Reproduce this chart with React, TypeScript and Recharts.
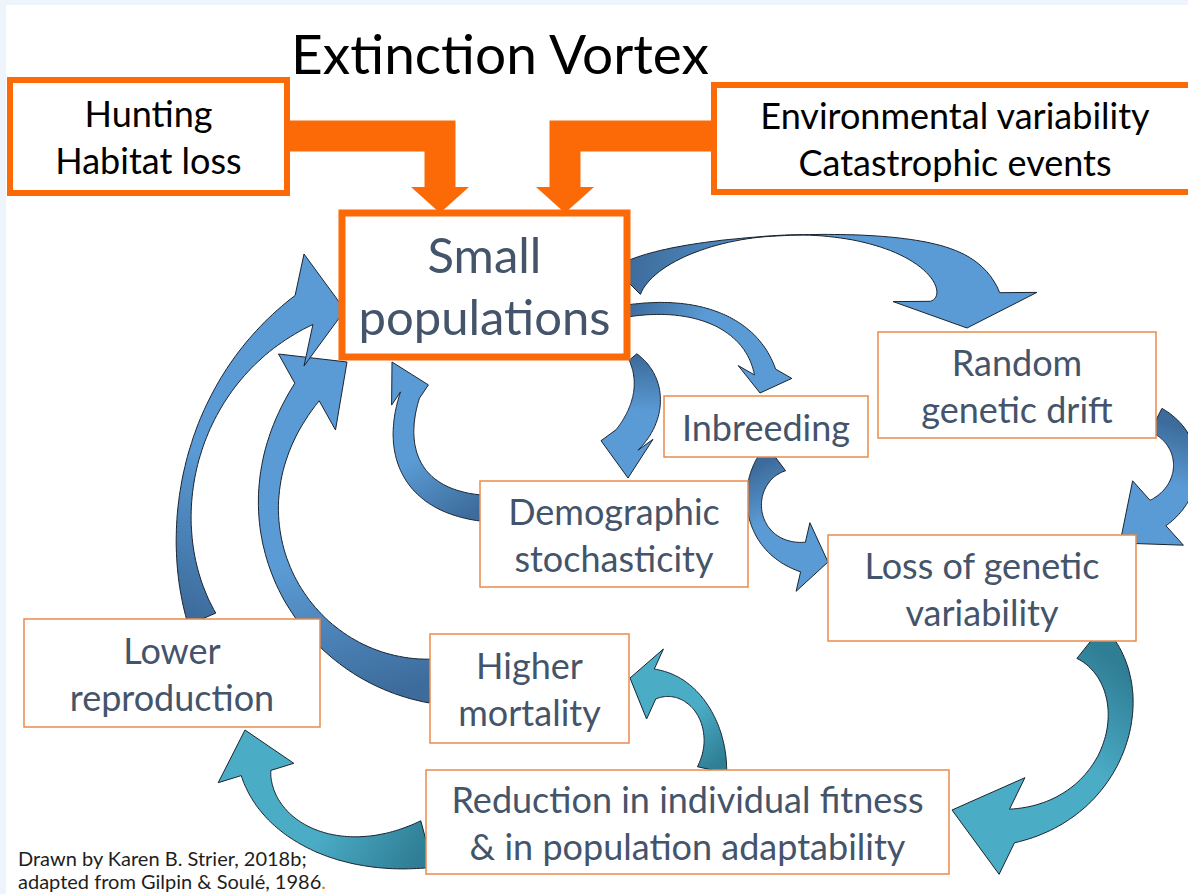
import React from 'react'
import { ScatterChart, Scatter, XAxis, YAxis } from 'recharts'

// chart units are laid out 1:1 with the slide
const W = 1188
const H = 894
const X_MAX = 1188
const Y_MAX = 894
const KX = W / X_MAX
const KY = H / Y_MAX

const FONT = 'Lato, "Open Sans", sans-serif'
const INK = '#44546a'
const ORANGE = '#fb6a06'
const THIN_ORANGE = '#ea8a4a'

const titleText = 'Extinction Vortex'
const titleAt = { x: 500, y: 53 }

const footnoteLines = ['Drawn by Karen B. Strier, 2018b;', 'adapted from Gilpin & Soulé, 1986']
const footnoteAt = { x: 18, y: 858 }

const driverBoxes = [
    { lines: ['Hunting', 'Habitat loss'], x0: 10, x1: 287, y0: 80, y1: 193 },
    { lines: ['Environmental variability', 'Catastrophic events'], x0: 714, x1: 1196, y0: 85, y1: 192 },
]

const coreBox = [{ lines: ['Small', 'populations'], x0: 342, x1: 627, y0: 213, y1: 357 }]

const stageBoxes = [
    { lines: ['Random', 'genetic drift'], x0: 878, x1: 1156, y0: 332, y1: 438 },
    { lines: ['Inbreeding'], x0: 664, x1: 868, y0: 396, y1: 457 },
    { lines: ['Demographic', 'stochasticity'], x0: 480, x1: 748, y0: 481, y1: 587 },
    { lines: ['Loss of genetic', 'variability'], x0: 828, x1: 1136, y0: 535, y1: 641 },
    { lines: ['Lower', 'reproduction'], x0: 24, x1: 320, y0: 619, y1: 727 },
    { lines: ['Higher', 'mortality'], x0: 430, x1: 629, y0: 634, y1: 743 },
    { lines: ['Reduction in individual fitness', '& in population adaptability'], x0: 426, x1: 949, y0: 770, y1: 874 },
]

// elbow arrows from the two driver boxes into "Small populations"
const driverArrows = [
    { from: [287, 136], bend: [440, 136], tip: [440, 213] },
    { from: [714, 136], bend: [565, 136], tip: [565, 213] },
]

// curved arrows of the vortex: centre line (cubic), widths (start, middle, end), head tip, head width
const vortexArrows = [
    { p: [[627, 281], [690, 218], [955, 216], [965, 297]], w: [38, 1, 70], tip: [967, 328], head: 144, tone: 'blue' },
    { p: [[627, 311], [700, 300], [752, 325], [765, 372]], w: [12, 14, 22], tip: [760, 393], head: 55, tone: 'blue' },
    { p: [[633, 357], [654, 382], [650, 415], [627, 440]], w: [10, 28, 30], tip: [628, 478], head: 52, tone: 'blue' },
    { p: [[481, 508], [410, 500], [392, 450], [410, 395]], w: [26, 22, 20], tip: [392, 362], head: 42, tone: 'blue' },
    { p: [[431, 681], [300, 670], [215, 520], [307, 392]], w: [44, 20, 30], tip: [347, 362], head: 95, tone: 'blue' },
    { p: [[202, 619], [160, 520], [190, 380], [304, 310]], w: [30, 12, 34], tip: [345, 310], head: 112, tone: 'blue' },
    { p: [[776, 458], [740, 485], [748, 548], [803, 557]], w: [32, 14, 30], tip: [828, 562], head: 70, tone: 'blue' },
    { p: [[1156, 420], [1195, 440], [1195, 490], [1158, 513]], w: [26, 24, 30], tip: [1120, 543], head: 82, tone: 'blue' },
    { p: [[1090, 642], [1150, 690], [1120, 810], [1012, 826]], w: [42, 22, 34], tip: [952, 810], head: 100, tone: 'teal' },
    { p: [[712, 770], [722, 725], [695, 682], [655, 684]], w: [30, 14, 30], tip: [630, 678], head: 72, tone: 'teal' },
    { p: [[427, 844], [338, 868], [266, 830], [256, 773]], w: [48, 20, 30], tip: [245, 730], head: 78, tone: 'teal' },
]

const TONES: Record<string, [string, string]> = {
    blue: ['#3d6c9c', '#5b9bd5'],
    teal: ['#2f7e95', '#4bacc6'],
}

const withCentre = (b: any) => ({ ...b, x: (b.x0 + b.x1) / 2, y: (b.y0 + b.y1) / 2 })
const driverData = driverBoxes.map(withCentre)
const coreData = coreBox.map(withCentre)
const stageData = stageBoxes.map(withCentre)
const driverArrowData = driverArrows.map(a => ({ ...a, x: a.from[0], y: a.from[1] }))
const vortexData = vortexArrows.map((a, i) => ({ ...a, id: i, x: a.p[0][0], y: a.p[0][1] }))

// map a chart-unit point into pixels, relative to the point recharts already scaled
const px = (props: any, pt: number[]) => [
    props.cx + (pt[0] - props.payload.x) * KX,
    props.cy + (pt[1] - props.payload.y) * KY,
]

const pts = (list: number[][]) => list.map(p => `${p[0].toFixed(1)},${p[1].toFixed(1)}`).join(' ')

function BoxShape(props: any, opts: { stroke: string; sw: number; size: number; gap: number; color: string }) {
    const b = props.payload
    const [x0, y0] = px(props, [b.x0, b.y0])
    const [x1, y1] = px(props, [b.x1, b.y1])
    const n = b.lines.length
    return (
        <g>
            <rect x={x0} y={y0} width={x1 - x0} height={y1 - y0} fill="#fff" stroke={opts.stroke} strokeWidth={opts.sw} />
            {b.lines.map((t: string, i: number) => (
                <text
                    key={i}
                    x={props.cx}
                    y={props.cy + (i - (n - 1) / 2) * opts.gap}
                    textAnchor="middle"
                    dominantBaseline="central"
                    fontFamily={FONT}
                    fontSize={opts.size}
                    fill={opts.color}
                >
                    {t}
                </text>
            ))}
        </g>
    )
}

function ElbowArrow(props: any) {
    const a = props.payload
    const [ax, ay] = px(props, a.from)
    const [bx] = px(props, a.bend)
    const [cx, cy] = px(props, a.tip)
    const T = 31
    const HW = 58
    const L = 26
    const s = Math.sign(bx - ax)
    const poly = [
        [ax, ay - T / 2],
        [bx + (s * T) / 2, ay - T / 2],
        [bx + (s * T) / 2, cy - L],
        [bx + (s * HW) / 2, cy - L],
        [cx, cy],
        [bx - (s * HW) / 2, cy - L],
        [bx - (s * T) / 2, cy - L],
        [bx - (s * T) / 2, ay + T / 2],
        [ax, ay + T / 2],
    ]
    return <polygon points={pts(poly)} fill={ORANGE} />
}

function CurvedArrow(props: any) {
    const a = props.payload
    const P = a.p.map((q: number[]) => px(props, q))
    const tip = px(props, a.tip)
    const N = 72
    const left: number[][] = []
    const right: number[][] = []
    for (let i = 0; i <= N; i++) {
        const t = i / N
        const u = 1 - t
        const bx = u * u * u * P[0][0] + 3 * u * u * t * P[1][0] + 3 * u * t * t * P[2][0] + t * t * t * P[3][0]
        const by = u * u * u * P[0][1] + 3 * u * u * t * P[1][1] + 3 * u * t * t * P[2][1] + t * t * t * P[3][1]
        const dx = 3 * u * u * (P[1][0] - P[0][0]) + 6 * u * t * (P[2][0] - P[1][0]) + 3 * t * t * (P[3][0] - P[2][0])
        const dy = 3 * u * u * (P[1][1] - P[0][1]) + 6 * u * t * (P[2][1] - P[1][1]) + 3 * t * t * (P[3][1] - P[2][1])
        const len = Math.hypot(dx, dy) || 1
        const nx = -dy / len
        const ny = dx / len
        // width passes exactly through start, middle and end values
        const wt = a.w[0] * u * (1 - 2 * t) + 4 * a.w[1] * t * u + a.w[2] * t * (2 * t - 1)
        const ww = Math.max(wt, 0.5) / 2
        left.push([bx + nx * ww, by + ny * ww])
        right.push([bx - nx * ww, by - ny * ww])
    }
    const end = P[3]
    const ddx = tip[0] - end[0]
    const ddy = tip[1] - end[1]
    const dl = Math.hypot(ddx, ddy) || 1
    const hx = -ddy / dl
    const hy = ddx / dl
    const hw = a.head / 2
    const poly = [
        ...left,
        [end[0] + hx * hw, end[1] + hy * hw],
        tip,
        [end[0] - hx * hw, end[1] - hy * hw],
        ...right.reverse(),
    ]
    const [dark, light] = TONES[a.tone]
    const gid = `vortex-grad-${a.id}`
    return (
        <g>
            <defs>
                <linearGradient id={gid} gradientUnits="userSpaceOnUse" x1={P[0][0]} y1={P[0][1]} x2={tip[0]} y2={tip[1]}>
                    <stop offset="0%" stopColor={dark} />
                    <stop offset="45%" stopColor={light} />
                    <stop offset="100%" stopColor={light} />
                </linearGradient>
            </defs>
            <polygon points={pts(poly)} fill={`url(#${gid})`} stroke="#1b2430" strokeWidth={1} strokeLinejoin="miter" />
        </g>
    )
}

function TitleShape(props: any) {
    return (
        <text x={props.cx} y={props.cy} textAnchor="middle" dominantBaseline="central" fontFamily={FONT} fontSize={55} fill="#000">
            {titleText}
        </text>
    )
}

function FootnoteShape(props: any) {
    return (
        <text x={props.cx} y={props.cy} fontFamily={FONT} fontSize={20} fill="#1e1e1e" dominantBaseline="central">
            <tspan x={props.cx}>{footnoteLines[0]}</tspan>
            <tspan x={props.cx} dy={23}>
                {footnoteLines[1]}
                <tspan fill={ORANGE}>.</tspan>
            </tspan>
        </text>
    )
}

export default function App() {
    return (
        <div style={{ position: 'fixed', left: 0, top: 0, width: W, height: H, background: '#edf4fc' }}>
            <div style={{ position: 'absolute', left: 6, top: 5, right: 0, bottom: 0, background: '#fff' }} />
            <div style={{ position: 'absolute', left: 0, top: 0 }}>
                <ScatterChart width={W} height={H} margin={{ top: 0, right: 0, bottom: 0, left: 0 }}>
                    <XAxis type="number" dataKey="x" domain={[0, X_MAX]} allowDataOverflow hide />
                    <YAxis type="number" dataKey="y" domain={[0, Y_MAX]} allowDataOverflow reversed hide />
                    <Scatter data={vortexData} shape={CurvedArrow} isAnimationActive={false} />
                    <Scatter data={driverArrowData} shape={ElbowArrow} isAnimationActive={false} />
                    <Scatter
                        data={stageData}
                        shape={(p: any) => BoxShape(p, { stroke: THIN_ORANGE, sw: 1.5, size: 36, gap: 47, color: INK })}
                        isAnimationActive={false}
                    />
                    <Scatter
                        data={coreData}
                        shape={(p: any) => BoxShape(p, { stroke: ORANGE, sw: 7, size: 49, gap: 62, color: INK })}
                        isAnimationActive={false}
                    />
                    <Scatter
                        data={driverData}
                        shape={(p: any) => BoxShape(p, { stroke: ORANGE, sw: 6, size: 36, gap: 47, color: '#000' })}
                        isAnimationActive={false}
                    />
                    <Scatter data={[titleAt]} shape={TitleShape} isAnimationActive={false} />
                    <Scatter data={[footnoteAt]} shape={FootnoteShape} isAnimationActive={false} />
                </ScatterChart>
            </div>
        </div>
    )
}
